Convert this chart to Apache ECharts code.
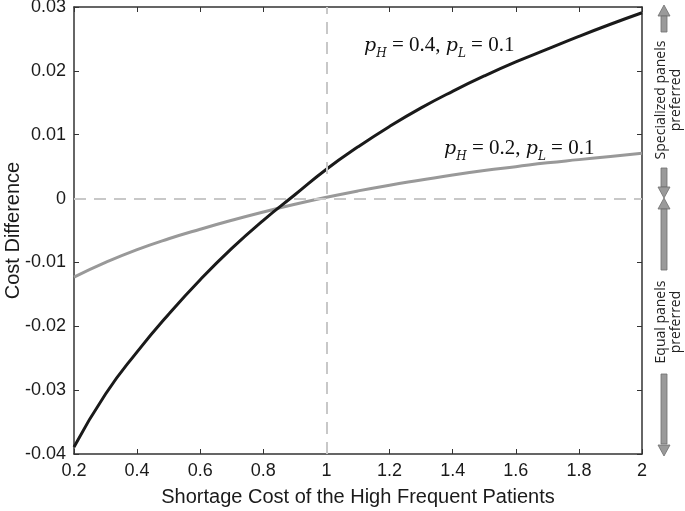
<!DOCTYPE html>
<html>
<head>
<meta charset="utf-8">
<script src="https://cdn.jsdelivr.net/npm/echarts@6/dist/echarts.min.js"></script>
<style>
  html, body { margin: 0; padding: 0; background: #fff; }
  #chart { width: 685px; height: 511px; }
</style>
</head>
<body>
<div id="chart"></div>
<script>
// shortage cost of high frequent patients
const costX = [0.2, 0.3, 0.4, 0.5, 0.6, 0.7, 0.8, 0.9, 1.0, 1.1, 1.2, 1.3, 1.4, 1.5, 1.6, 1.7, 1.8, 1.9, 2.0];
// pH = 0.4, pL = 0.1
const diffHigh = [-0.0389, -0.0306, -0.0240, -0.0181, -0.0127, -0.0078, -0.0034, 0.0006, 0.0046, 0.0081,
  0.0113, 0.0142, 0.0168, 0.0192, 0.0214, 0.0234, 0.0254, 0.0273, 0.0291];
// pH = 0.2, pL = 0.1
const diffLow = [-0.0123, -0.0100, -0.0080, -0.0063, -0.0048, -0.0034, -0.0021, -0.0009, 0.0002, 0.0012,
  0.0021, 0.0029, 0.0037, 0.0044, 0.0050, 0.0056, 0.0061, 0.0066, 0.0071];

const labelHigh = ['0.4', '0.1'];
const labelLow = ['0.2', '0.1'];

const chart = echarts.init(document.getElementById('chart'), null, { renderer: 'canvas' });

const tickFont = { fontFamily: 'Liberation Sans', fontSize: 18, color: '#1a1a1a' };
const nameFont = { fontFamily: 'Liberation Sans', fontSize: 20, color: '#1a1a1a' };
const axisLine = { show: true, onZero: false, lineStyle: { color: '#333', width: 1.5 } };
const axisTick = { show: true, inside: true, length: 5, lineStyle: { color: '#333' } };
const arrowFill = '#9a9a9a';
const arrowStroke = '#6e6e6e';

// gray double arrow pieces on the right margin
const shaft = (y1, y2) => ({
  type: 'rect', shape: { x: 661, y: y1, width: 6, height: y2 - y1 },
  style: { fill: arrowFill, stroke: arrowStroke, lineWidth: 0.8 }, silent: true
});
const headUp = (y) => ({
  type: 'polygon', shape: { points: [[664, y], [658, y + 11], [670, y + 11]] },
  style: { fill: arrowFill, stroke: arrowStroke, lineWidth: 0.8 }, silent: true
});
const headDown = (y) => ({
  type: 'polygon', shape: { points: [[664, y], [658, y - 11], [670, y - 11]] },
  style: { fill: arrowFill, stroke: arrowStroke, lineWidth: 0.8 }, silent: true
});
const sideText = (x, y, txt) => ({
  type: 'text', x: x, y: y, rotation: Math.PI / 2, silent: true,
  style: {
    text: txt, fill: '#222', font: '14px "Open Sans"',
    align: 'center', verticalAlign: 'middle'
  }
});
const mathLabel = (x, y, vals) => ({
  type: 'text', x: x, y: y, silent: true,
  style: {
    text: '{p|p}{s|H}{n| = ' + vals[0] + ', }{p|p}{s|L}{n| = ' + vals[1] + '}',
    rich: {
      p: { fontFamily: 'DejaVu Serif', fontStyle: 'italic', fontSize: 19, fill: '#111', verticalAlign: 'bottom', lineHeight: 26 },
      s: { fontFamily: 'DejaVu Serif', fontStyle: 'italic', fontSize: 12, fill: '#111', verticalAlign: 'bottom', lineHeight: 26, padding: [0, 0, -4, 0] },
      n: { fontFamily: 'Liberation Serif', fontSize: 21, fill: '#111', verticalAlign: 'bottom', lineHeight: 26 }
    }
  }
});

const option = {
  animation: false,
  backgroundColor: '#fff',
  grid: { left: 74, right: 43, top: 7, bottom: 57, containLabel: false, outerBoundsMode: 'none' },
  xAxis: [
    {
      type: 'value', min: 0.2, max: 2, interval: 0.2,
      axisLine: axisLine, axisTick: axisTick,
      splitLine: { show: false },
      axisLabel: Object.assign({ margin: 8, formatter: v => String(+v.toFixed(1)) }, tickFont),
      name: 'Shortage Cost of the High Frequent Patients',
      nameLocation: 'middle', nameGap: 33, nameMoveOverlap: false,
      nameTextStyle: nameFont
    },
    {
      type: 'value', position: 'top', min: 0.2, max: 2, interval: 0.2,
      axisLine: axisLine, axisTick: axisTick,
      axisLabel: { show: false }, splitLine: { show: false }
    }
  ],
  yAxis: [
    {
      type: 'value', min: -0.04, max: 0.03, interval: 0.01,
      axisLine: axisLine, axisTick: axisTick,
      splitLine: { show: false },
      axisLabel: Object.assign({ margin: 8, formatter: v => String(+v.toFixed(2)) }, tickFont),
      name: 'Cost Difference',
      nameLocation: 'middle', nameGap: 61, nameMoveOverlap: false,
      nameRotate: 90,
      nameTextStyle: Object.assign({ verticalAlign: 'middle' }, nameFont)
    },
    {
      type: 'value', position: 'right', min: -0.04, max: 0.03, interval: 0.01,
      axisLine: axisLine, axisTick: axisTick,
      axisLabel: { show: false }, splitLine: { show: false }
    }
  ],
  series: [
    {
      name: 'pH=0.2', type: 'line', smooth: true, showSymbol: false,
      data: costX.map((x, i) => [x, diffLow[i]]),
      lineStyle: { color: '#999999', width: 3 },
      z: 3,
      markLine: {
        silent: true, symbol: 'none', label: { show: false },
        lineStyle: { color: '#c8c8c8', width: 2, type: [12, 8] },
        data: [{ yAxis: 0 }, { xAxis: 1 }]
      }
    },
    {
      name: 'pH=0.4', type: 'line', smooth: true, showSymbol: false,
      data: costX.map((x, i) => [x, diffHigh[i]]),
      lineStyle: { color: '#1a1a1a', width: 3 },
      z: 4
    }
  ],
  graphic: [
    mathLabel(364, 30, labelHigh),
    mathLabel(444, 133, labelLow),
    headUp(5), shaft(16, 32),
    sideText(661, 100, 'Specialized panels'),
    sideText(676, 100, 'preferred'),
    shaft(168, 187), headDown(198),
    headUp(198), shaft(209, 270),
    sideText(661, 322, 'Equal panels'),
    sideText(676, 322, 'preferred'),
    shaft(374, 444), headDown(456)
  ]
};

chart.setOption(option);
</script>
</body>
</html>
